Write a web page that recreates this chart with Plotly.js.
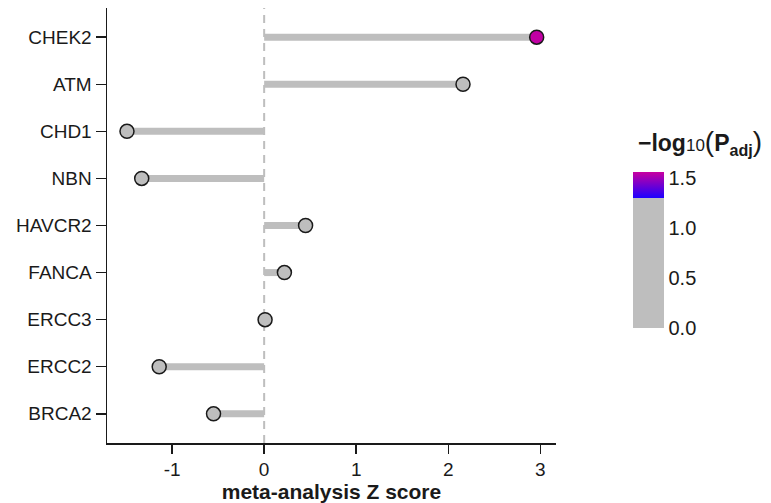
<!DOCTYPE html>
<html>
<head>
<meta charset="utf-8">
<script src="https://cdn.plot.ly/plotly-3.0.1.min.js"></script>
<style>html,body{margin:0;padding:0;background:#fff;}</style>
</head>
<body>
<div id="chart" style="width:771px;height:503px;"></div>
<script>
// Genes, bottom to top
const genes = ["BRCA2", "ERCC2", "ERCC3", "FANCA", "HAVCR2", "NBN", "CHD1", "ATM", "CHEK2"];
const zScores = [-0.55, -1.14, 0.01, 0.22, 0.45, -1.33, -1.49, 2.16, 2.96];
const negLogPadj = [0.15, 0.5, 0.0, 0.05, 0.1, 0.6, 0.7, 0.9, 1.55];
const xTicks = [-1, 0, 1, 2, 3];
const cbTicks = [0, 0.5, 1.0, 1.5];
const cbTickText = ["0.0", "0.5", "1.0", "1.5"];

const segX = [], segY = [];
genes.forEach((g, i) => { segX.push(0, zScores[i], null); segY.push(g, g, null); });

const FONT = "Liberation Sans, Arial, Helvetica, sans-serif";
const cmax = 1.56, thr = 1.3;
const data = [
  {
    type: "scatter", mode: "lines", x: segX, y: segY,
    line: { color: "#BEBEBE", width: 7 }, hoverinfo: "skip", showlegend: false
  },
  {
    type: "scatter", mode: "markers", x: zScores, y: genes,
    marker: {
      size: 14,
      color: negLogPadj,
      cmin: 0, cmax: cmax,
      colorscale: [[0, "#BEBEBE"], [thr / cmax, "#BEBEBE"], [thr / cmax + 0.001, "#1E00FF"], [1, "#C800A0"]],
      line: { color: "#1a1a1a", width: 1.5 },
      showscale: true,
      colorbar: {
        x: (633 - 107) / 449, xanchor: "left", xref: "paper",
        y: (443 - 250) / 435, yanchor: "middle",
        len: 156, lenmode: "pixels", thickness: 31, thicknessmode: "pixels",
        outlinewidth: 0, ypad: 0, xpad: 0,
        tickvals: cbTicks, ticktext: cbTickText,
        ticks: "", ticklabelposition: "outside",
        tickfont: { family: FONT, size: 20, color: "#1a1a1a" },
        title: { text: "" }
      }
    },
    showlegend: false
  }
];

const layout = {
  width: 771, height: 503,
  margin: { l: 107, r: 215, t: 8, b: 60 },
  paper_bgcolor: "#fff", plot_bgcolor: "#fff",
  font: { family: FONT, color: "#1a1a1a" },
  xaxis: {
    range: [-1.707, 3.17], tickvals: xTicks, ticktext: xTicks.map(String),
    showgrid: false, zeroline: false,
    showline: true, linecolor: "#1a1a1a", linewidth: 1.5,
    ticks: "outside", ticklen: 9, tickwidth: 1.5, tickcolor: "#1a1a1a",
    tickfont: { size: 19, color: "#1a1a1a" },
    title: { text: "<b>meta-analysis Z score</b>", font: { size: 21, color: "#1a1a1a" }, standoff: 8 }
  },
  yaxis: {
    type: "category", categoryorder: "array", categoryarray: genes,
    range: [-0.62, 8.62],
    showgrid: false, zeroline: false,
    showline: true, linecolor: "#1a1a1a", linewidth: 1.5,
    ticks: "outside", ticklen: 10, tickwidth: 1.5, tickcolor: "#1a1a1a",
    tickfont: { size: 19, color: "#1a1a1a" }
  },
  shapes: [{
    type: "line", xref: "x", yref: "paper", x0: 0, x1: 0, y0: 0, y1: 1,
    line: { color: "#BEBEBE", width: 2, dash: "8px,6px" }, layer: "below"
  }],
  annotations: [{
    xref: "paper", yref: "paper",
    x: (700 - 107) / 449, y: (443 - 142) / 435, xanchor: "center", yanchor: "middle",
    showarrow: false,
    text: "<b>\u2212log</b><span style='font-size:17px'>10</span><span style='font-size:28px'>(</span><b>P<sub>adj</sub></b><span style='font-size:28px'>)</span>",
    font: { size: 23, color: "#1a1a1a" }
  }]
};

Plotly.newPlot("chart", data, layout, { displayModeBar: false, staticPlot: true });
</script>
</body>
</html>
